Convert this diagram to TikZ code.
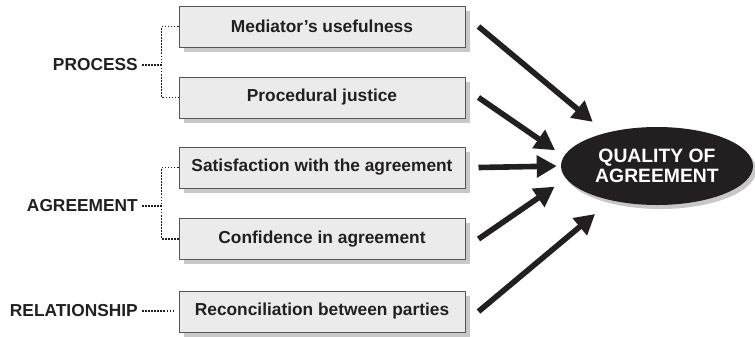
\documentclass[tikz,border=0pt]{standalone}
\usepackage{fontspec}
\setmainfont{Liberation Sans}
\usepackage{tikz}
\usetikzlibrary{arrows.meta, positioning, shapes.geometric, shadows}

\definecolor{inkblack}{RGB}{35,31,32}
\definecolor{boxgray}{RGB}{235,235,235}
\definecolor{boxedge}{RGB}{85,85,85}
\definecolor{shadowgray}{RGB}{200,200,200}

\begin{document}
\begin{tikzpicture}[x=0.75pt, y=-0.75pt,
		factor/.style={draw=boxedge, line width=0.75pt, fill=boxgray, text=inkblack,
			minimum width=214.5pt, minimum height=30.75pt, inner sep=0pt,
			font=\fontsize{13}{15.6}\selectfont\bfseries,
			drop shadow={shadow xshift=3.5pt, shadow yshift=-3.5pt, fill=shadowgray, opacity=1}},
		group/.style={anchor=east, inner sep=0pt, text=inkblack, font=\fontsize{13}{15.6}\selectfont\bfseries},
		quality/.style={ellipse, fill=inkblack, text=white, align=center, inner sep=0pt,
			minimum width=144pt, minimum height=58.5pt,
			font=\fontsize{14.5}{15}\selectfont\bfseries,
			drop shadow={shadow xshift=2.5pt, shadow yshift=-3pt, fill=shadowgray, opacity=1}},
		link/.style={inkblack, line width=1.4pt, dash pattern=on 1.2pt off 1.1pt},
		cause/.style={inkblack, line width=4.2pt, -{Triangle[length=15pt, width=16pt]}}]
	\useasboundingbox (0,0) rectangle (755,336);

	% the five factors
	\node[factor] (useful) at (322,26.5) {Mediator’s usefulness};
	\node[factor] (justice) at (322,97.5) {Procedural justice};
	\node[factor] (satisf) at (322,167.5) {Satisfaction with the agreement};
	\node[factor] (confid) at (322,239) {Confidence in agreement};
	\node[factor] (recon) at (322,311.5) {Reconciliation between parties};

	\node[quality] (qa) at (657,166) {QUALITY OF\\AGREEMENT};

	% groups
	\node[group] (process) at (138,65) {PROCESS};
	\node[group] (agree) at (138,206) {AGREEMENT};
	\node[group] (relation) at (138,311) {RELATIONSHIP};

	\coordinate (pbrk) at ([xshift=-12.75pt]useful.west);
	\coordinate (abrk) at ([xshift=-12.75pt]satisf.west);
	\draw[link] (useful.west) -- (pbrk) |- (justice.west);
	\draw[link] ([xshift=3pt]process.east) -- (process.east -| pbrk);
	\draw[link] (satisf.west) -- (abrk) |- (confid.west);
	\draw[link] ([xshift=3pt]agree.east) -- (agree.east -| abrk);
	\draw[link, shorten <=3pt, shorten >=4pt] (relation.east) -- (relation.east -| recon.west);

	% arrows into the outcome
	\draw[cause, shorten >=12.75pt] ([xshift=9.75pt]useful.east) -- (qa.147);
	\draw[cause, shorten >=7.9pt] ([xshift=9.75pt]justice.east) -- (qa.174);
	\draw[cause, shorten >=3pt] ([xshift=9.75pt]satisf.east) -- (qa.west);
	\draw[cause, shorten >=10.4pt] ([xshift=9.75pt]confid.east) -- (qa.188);
	\draw[cause, shorten >=15.75pt] ([xshift=9.75pt]recon.east) -- (qa.217);
\end{tikzpicture}
\end{document}
